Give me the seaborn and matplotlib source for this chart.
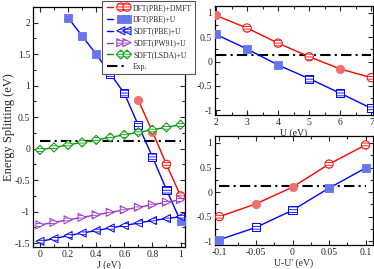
import matplotlib
matplotlib.use("Agg")
import matplotlib.pyplot as plt
from matplotlib.ticker import MultipleLocator, FuncFormatter
from matplotlib.legend_handler import HandlerTuple
import numpy as np
import seaborn as sns

# ---------------- data ----------------
# left panel: scan in J
j_dmft = [0.7, 0.8, 0.9, 1.0]
e_dmft_j = [0.77, 0.27, -0.25, -0.75]
j_dftu = [0.2, 0.3, 0.4, 0.5, 0.6, 0.7, 0.8, 0.9, 1.0]
e_dftu_j = [2.08, 1.79, 1.50, 1.19, 0.88, 0.37, -0.13, -0.65, -1.15]
j_sdft = [0.0, 0.1, 0.2, 0.3, 0.4, 0.5, 0.6, 0.7, 0.8, 0.9, 1.0]
e_sdft_pbe = [-1.47, -1.43, -1.38, -1.34, -1.30, -1.26, -1.22, -1.18, -1.14, -1.11, -1.08]
e_sdft_pw91 = [-1.21, -1.17, -1.13, -1.09, -1.05, -1.01, -0.97, -0.93, -0.89, -0.85, -0.81]
e_sdft_lsda = [-0.02, 0.02, 0.06, 0.10, 0.14, 0.18, 0.22, 0.26, 0.30, 0.34, 0.38]
exp_split = 0.13

# top right: scan in U
u_vals = [2, 3, 4, 5, 6, 7]
e_dmft_u = [0.95, 0.69, 0.38, 0.10, -0.15, -0.33]
e_dftu_u = [0.56, 0.26, -0.07, -0.35, -0.65, -0.96]

# bottom right: scan in U-U'
du_vals = [-0.1, -0.05, 0.0, 0.05, 0.1]
e_dmft_du = [-0.50, -0.24, 0.10, 0.57, 0.96]
e_dftu_du = [-0.97, -0.72, -0.37, 0.08, 0.49]

# which markers are drawn striped (True) or solid (False)
hatch_dmft_j = [False, False, True, True]
hatch_dftu_j = [False, False, False, True, True, True, True, True, False]
hatch_dmft_u = [False, True, True, True, False, True]
hatch_dftu_u = [False, False, False, True, True, True]
hatch_dmft_du = [True, False, False, True, True]
hatch_dftu_du = [False, True, True, False, False]

RED, RED_FILL = "#ff0000", "#f07070"
BLUE, BLUE_FILL = "#0000ff", "#6677ee"
PURPLE = "#9933cc"
GREEN = "#009900"

sns.set_style("ticks")
plt.rcParams["font.family"] = ["Liberation Serif", "DejaVu Serif"]
plt.rcParams["axes.unicode_minus"] = False
plt.rcParams["hatch.linewidth"] = 0.6
plt.rcParams["xtick.direction"] = "in"
plt.rcParams["ytick.direction"] = "in"

fig = plt.figure(figsize=(3.74, 2.69), dpi=100)
ax_j = fig.add_axes([0.088, 0.082, 0.406, 0.892])
ax_u = fig.add_axes([0.575, 0.572, 0.422, 0.405])
ax_d = fig.add_axes([0.575, 0.089, 0.422, 0.405])

HATCH = "-" * 6


def series(ax, x, y, color, fill, marker, size, hatched):
    x = np.asarray(x, float)
    y = np.asarray(y, float)
    h = np.asarray(hatched, bool)
    sns.lineplot(x=x, y=y, color=color, lw=1.0, ax=ax, zorder=2)
    line = ax.lines[-1]
    solid = ax.scatter(x[~h], y[~h], marker=marker, s=size, facecolor=fill,
                       edgecolor=fill, lw=0.6, zorder=3)
    striped = ax.scatter(x[h], y[h], marker=marker, s=size, facecolor="white",
                         edgecolor=color, hatch=HATCH, lw=0.7, zorder=3)
    return line, solid, striped


def exp_line(ax, xs):
    return ax.plot([xs[0], xs[-1]], [exp_split, exp_split], color="black",
                   lw=1.5, ls=(0, (5, 2, 1, 2)), zorder=1)[0]


fmt = FuncFormatter(lambda v, p: "0" if abs(v) < 1e-9 else "%g" % round(v, 6))

# left panel
dm = series(ax_j, j_dmft, e_dmft_j, RED, RED_FILL, "o", 36, hatch_dmft_j)
du = series(ax_j, j_dftu, e_dftu_j, BLUE, BLUE_FILL, "s", 34, hatch_dftu_j)
pbe = series(ax_j, j_sdft, e_sdft_pbe, BLUE, BLUE_FILL, "<", 34, [True] * 11)
pw = series(ax_j, j_sdft, e_sdft_pw91, PURPLE, PURPLE, ">", 34, [True] * 11)
ld = series(ax_j, j_sdft, e_sdft_lsda, GREEN, GREEN, "D", 22, [True] * 11)
ex = exp_line(ax_j, j_sdft)
ax_j.set_xlim(-0.05, 1.03)
ax_j.set_ylim(-1.56, 2.25)
ax_j.xaxis.set_major_locator(MultipleLocator(0.2))
ax_j.xaxis.set_minor_locator(MultipleLocator(0.1))
ax_j.yaxis.set_major_locator(MultipleLocator(0.5))
ax_j.yaxis.set_minor_locator(MultipleLocator(0.25))
ax_j.set_xlabel("J (eV)", fontsize=7, labelpad=1)
ax_j.set_ylabel("Energy Splitting (eV)", fontsize=9)
ax_j.yaxis.set_label_coords(-0.12, 0.5)

# top right
series(ax_u, u_vals, e_dmft_u, RED, RED_FILL, "o", 36, hatch_dmft_u)
series(ax_u, u_vals, e_dftu_u, BLUE, BLUE_FILL, "s", 34, hatch_dftu_u)
exp_line(ax_u, u_vals)
ax_u.set_xlim(1.97, 7.05)
ax_u.set_ylim(-1.1, 1.14)
ax_u.xaxis.set_major_locator(MultipleLocator(1))
ax_u.xaxis.set_minor_locator(MultipleLocator(0.5))
ax_u.set_xlabel("U (eV)", fontsize=7, labelpad=1)

# bottom right
series(ax_d, du_vals, e_dmft_du, RED, RED_FILL, "o", 36, hatch_dmft_du)
series(ax_d, du_vals, e_dftu_du, BLUE, BLUE_FILL, "s", 34, hatch_dftu_du)
exp_line(ax_d, du_vals)
ax_d.set_xlim(-0.106, 0.11)
ax_d.set_ylim(-1.08, 1.14)
ax_d.xaxis.set_major_locator(MultipleLocator(0.05))
ax_d.xaxis.set_minor_locator(MultipleLocator(0.025))
ax_d.set_xlabel("U-U' (eV)", fontsize=7, labelpad=1)

for ax in (ax_u, ax_d):
    ax.yaxis.set_major_locator(MultipleLocator(0.5))
    ax.yaxis.set_minor_locator(MultipleLocator(0.25))

for ax in (ax_j, ax_u, ax_d):
    ax.xaxis.set_major_formatter(fmt)
    ax.yaxis.set_major_formatter(fmt)
    ax.tick_params(which="both", top=True, right=True, labelsize=7, pad=2,
                   width=0.8)
    ax.tick_params(which="major", length=3.5)
    ax.tick_params(which="minor", length=2)
    for s in ax.spines.values():
        s.set_linewidth(0.9)
        s.set_color("black")

handles = [(dm[0], dm[2]), (du[0], du[1]), (pbe[0], pbe[2]),
           (pw[0], pw[2]), (ld[0], ld[2]), ex]
labels = ["DFT(PBE)+DMFT", "DFT(PBE)+U", "SDFT(PBE)+U", "SDFT(PW91)+U",
          "SDFT(LSDA)+U", "Exp."]
leg = fig.legend(handles, labels, loc="upper left",
                 bbox_to_anchor=(101 / 374, 1.0), fontsize=5.5,
                 handler_map={tuple: HandlerTuple(ndivide=None)},
                 scatterpoints=2, scatteryoffsets=[0.5], numpoints=2,
                 handlelength=3.2, handletextpad=0.5, labelspacing=0.5,
                 borderpad=0.4, borderaxespad=0.1, fancybox=False,
                 framealpha=1, edgecolor="#555555")
leg.get_frame().set_linewidth(0.8)

fig.savefig("out.png", dpi=100)
